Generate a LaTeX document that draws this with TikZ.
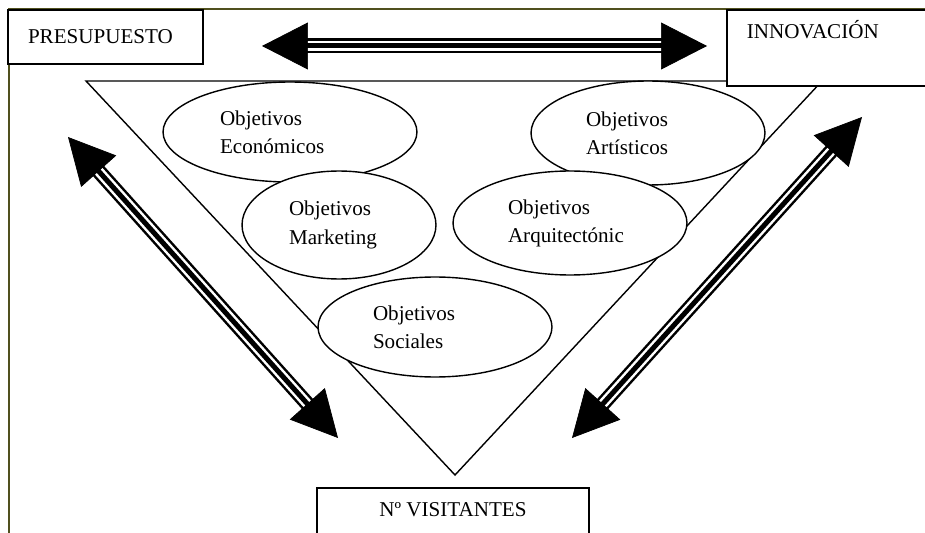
\documentclass[tikz,border=0pt]{standalone}
\usepackage{fontspec}
\setmainfont{Liberation Serif}
\usetikzlibrary{shapes.geometric,arrows.meta}
\definecolor{framecol}{RGB}{80,80,30}
\begin{document}
\begin{tikzpicture}[x=0.02cm, y=-0.02cm,
  font=\fontsize{12}{16}\selectfont,
  caja/.style={draw, fill=white, line width=0.9pt, rectangle, align=left, inner sep=0pt},
  objetivo/.style={draw, fill=white, line width=0.8pt, ellipse, align=left, inner sep=0pt},
  flecha/.style={line width=0.1cm, shorten <=0.8cm, shorten >=0.8cm,
    preaction={draw, line width=0.3cm},
    preaction={draw, white, line width=0.2cm},
    postaction={draw, line width=0.4pt, shorten <=0pt, shorten >=0pt,
      {Triangle[length=0.92cm, width=0.94cm]}-{Triangle[length=0.92cm, width=0.94cm]}}}]
  \useasboundingbox (0,0) rectangle (925,533);
  \clip (0,0) rectangle (925,533);

  % Page frame
  \draw[framecol, line width=0.035cm] (9,560) -- (9,9) -- (960,9);

  % Triangle
  \coordinate (tl) at (86,81);
  \coordinate (tr) at (822,81);
  \coordinate (tb) at (455,475);
  \draw[line width=0.8pt] (tl) -- (tr) -- (tb) -- cycle;

  % Objectives
  \node[objetivo, minimum width=5.08cm, minimum height=2cm, text width=2.8cm] (eco) at (290,132) {Objetivos\\Económicos};
  \node[objetivo, minimum width=4.68cm, minimum height=2.08cm, text width=2.48cm] (art) at (648,133) {Objetivos\\Artísticos};
  \node[objetivo, minimum width=3.88cm, minimum height=2.16cm, text width=2cm] (mkt) at (339,225) {Objetivos\\Marketing};
  \node[objetivo, minimum width=4.68cm, minimum height=2.08cm, text width=2.48cm] (arq) at (570,223) {Objetivos\\Arquitectónic};
  \node[objetivo, minimum width=4.68cm, minimum height=2cm, text width=2.48cm] (soc) at (435,327) {Objetivos\\Sociales};

  % Boxes
  \node[caja, minimum width=3.9cm, minimum height=1.08cm, text width=3.1cm] (pres) at (105.5,37) {PRESUPUESTO};
  \node[caja, anchor=north west, minimum width=4.4cm, minimum height=1.52cm, text width=3.6cm] (inno) at (726,9) {INNOVACIÓN\\ \strut};
  \node[caja, anchor=north, minimum width=5.44cm, minimum height=1.6cm, align=center] (vis) at (453,487) {Nº VISITANTES\\ \strut};

  % Arrows
  \coordinate (hL) at (262,46);
  \coordinate (hR) at (707,46);
  \coordinate (lU) at (68,137);
  \coordinate (lD) at (338,438);
  \coordinate (rD) at (572,438);
  \coordinate (rU) at (862,117);
  \draw[flecha] (hL) -- (hR);
  \draw[flecha] (lU) -- (lD);
  \draw[flecha] (rD) -- (rU);
\end{tikzpicture}
\end{document}
